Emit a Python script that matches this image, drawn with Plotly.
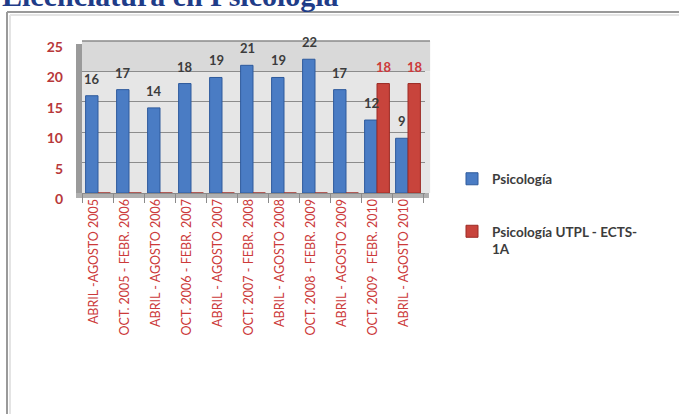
import plotly.graph_objects as go

# Periods (semesters) and number of students per programme
periodos = [
    "ABRIL -AGOSTO 2005",
    "OCT. 2005 - FEBR. 2006",
    "ABRIL - AGOSTO 2006",
    "OCT. 2006 - FEBR. 2007",
    "ABRIL - AGOSTO 2007",
    "OCT. 2007 - FEBR. 2008",
    "ABRIL - AGOSTO 2008",
    "OCT. 2008 - FEBR. 2009",
    "ABRIL - AGOSTO 2009",
    "OCT. 2009 - FEBR. 2010",
    "ABRIL - AGOSTO 2010",
]
psicologia = [16, 17, 14, 18, 19, 21, 19, 22, 17, 12, 9]
psicologia_ects = [0, 0, 0, 0, 0, 0, 0, 0, 0, 18, 18]

nombre_a = "Psicología"
nombre_b = "Psicología UTPL - ECTS-<br>1A"
titulo = "Licenciatura en Psicología"

W, H = 679, 414


def px(x):
    return x / W


def py(y):
    return 1 - y / H


AZUL = "#4A7CC4"
ROJO = "#C8443C"
ROJO_TXT = "#CC3A3A"
GRIS_TXT = "#3c3c3c"

fig = go.Figure()
fig.add_trace(go.Bar(
    x=periodos, y=psicologia, name=nombre_a, legend="legend",
    marker=dict(color=AZUL, line=dict(color="#2E5A9C", width=1)),
))
fig.add_trace(go.Bar(
    x=periodos, y=psicologia_ects, name=nombre_b, legend="legend2",
    marker=dict(color=ROJO, line=dict(color="#9C2A24", width=1)),
))

# value labels above each bar
anots = []
for cat, v in zip(periodos, psicologia):
    anots.append(dict(x=cat, y=v, xref="x", yref="y", text=str(v), showarrow=False,
                      xshift=-6, yshift=17, yanchor="middle",
                      font=dict(family="Lato", size=13, color=GRIS_TXT, weight="bold")))
for cat, v in zip(periodos, psicologia_ects):
    if v:
        anots.append(dict(x=cat, y=v, xref="x", yref="y", text=str(v), showarrow=False,
                          xshift=7, yshift=17, yanchor="middle",
                          font=dict(family="Lato", size=13, color=ROJO_TXT, weight="bold")))

# page heading, its upper part runs past the top edge
anots.append(dict(x=0, y=1, xref="paper", yref="paper", xanchor="left", yanchor="top",
                  yshift=23, text=titulo, showarrow=False,
                  font=dict(family="Liberation Serif", size=30, color="#1F3C88", weight="bold")))

X0, X1 = 82, 425
Y0, Y1 = 193, 41

shapes = [
    # back wall shading (upper band slightly darker)
    dict(type="rect", xref="x domain", yref="y domain", x0=0, x1=1.015, y0=0.8, y1=1,
         fillcolor="#d9d9d9", line=dict(width=0), layer="below"),
    dict(type="rect", xref="x domain", yref="y domain", x0=0, x1=1.015, y0=0, y1=0.8,
         fillcolor="#e6e6e6", line=dict(width=0), layer="below"),
    # side wall
    dict(type="rect", xref="paper", yref="paper", x0=px(76), x1=px(X0), y0=py(198), y1=py(Y1 + 3),
         fillcolor="#9a9a9a", line=dict(width=0), layer="below"),
    # floor
    dict(type="rect", xref="paper", yref="paper", x0=px(76), x1=px(X1 + 4), y0=py(198), y1=py(Y0),
         fillcolor="#b0b0b0", line=dict(width=0), layer="below"),
    # top edge of the wall
    dict(type="line", xref="paper", yref="paper", x0=px(X0), x1=px(X1 + 5), y0=py(Y1), y1=py(Y1),
         line=dict(color="#8a8a8a", width=1.5)),
    # outer frame
    dict(type="line", xref="paper", yref="paper", x0=px(7), x1=1, y0=py(12), y1=py(12),
         line=dict(color="#9a9a9a", width=2)),
    dict(type="line", xref="paper", yref="paper", x0=px(7), x1=px(7), y0=py(12), y1=0,
         line=dict(color="#9a9a9a", width=2)),
    dict(type="line", xref="paper", yref="paper", x0=px(10), x1=1, y0=py(15), y1=py(15),
         line=dict(color="#e4e4e4", width=2)),
    dict(type="line", xref="paper", yref="paper", x0=px(10), x1=px(10), y0=py(15), y1=0,
         line=dict(color="#e4e4e4", width=2)),
]

legend_font = dict(family="Lato", size=13.5, color=GRIS_TXT, weight="bold")

fig.update_layout(
    width=W, height=H,
    margin=dict(l=0, r=0, t=0, b=0, pad=0, autoexpand=False),
    paper_bgcolor="white",
    plot_bgcolor="rgba(0,0,0,0)",
    barmode="group",
    bargap=0.2,
    bargroupgap=0,
    annotations=anots,
    shapes=shapes,
    showlegend=True,
    legend=dict(x=px(452), y=py(179), xanchor="left", yanchor="middle",
                font=legend_font, bgcolor="rgba(0,0,0,0)", itemwidth=30),
    legend2=dict(x=px(452), y=py(216), xanchor="left", yanchor="top", valign="top",
                 font=legend_font, bgcolor="rgba(0,0,0,0)", itemwidth=30),
    xaxis=dict(
        domain=[px(X0), px(X1)],
        type="category",
        automargin=False,
        tickangle=-90,
        tickson="boundaries",
        ticks="outside", ticklen=9, tickcolor="#8a8a8a",
        showline=True, linecolor="#8a8a8a",
        showgrid=False,
        ticklabelshift=-4,
        tickfont=dict(family="Lato", size=12.5, color=ROJO_TXT),
    ),
    yaxis=dict(
        domain=[py(Y0), py(Y1)],
        range=[0, 25],
        dtick=5,
        automargin=False,
        showgrid=True, gridcolor="#8c8c8c", gridwidth=1,
        zeroline=False,
        showline=False,
        ticks="",
        ticklabelstandoff=18,
        ticklabelshift=6,
        tickfont=dict(family="Lato", size=14, color="#B8383A", weight="bold"),
    ),
)

fig.write_html("out.html")
